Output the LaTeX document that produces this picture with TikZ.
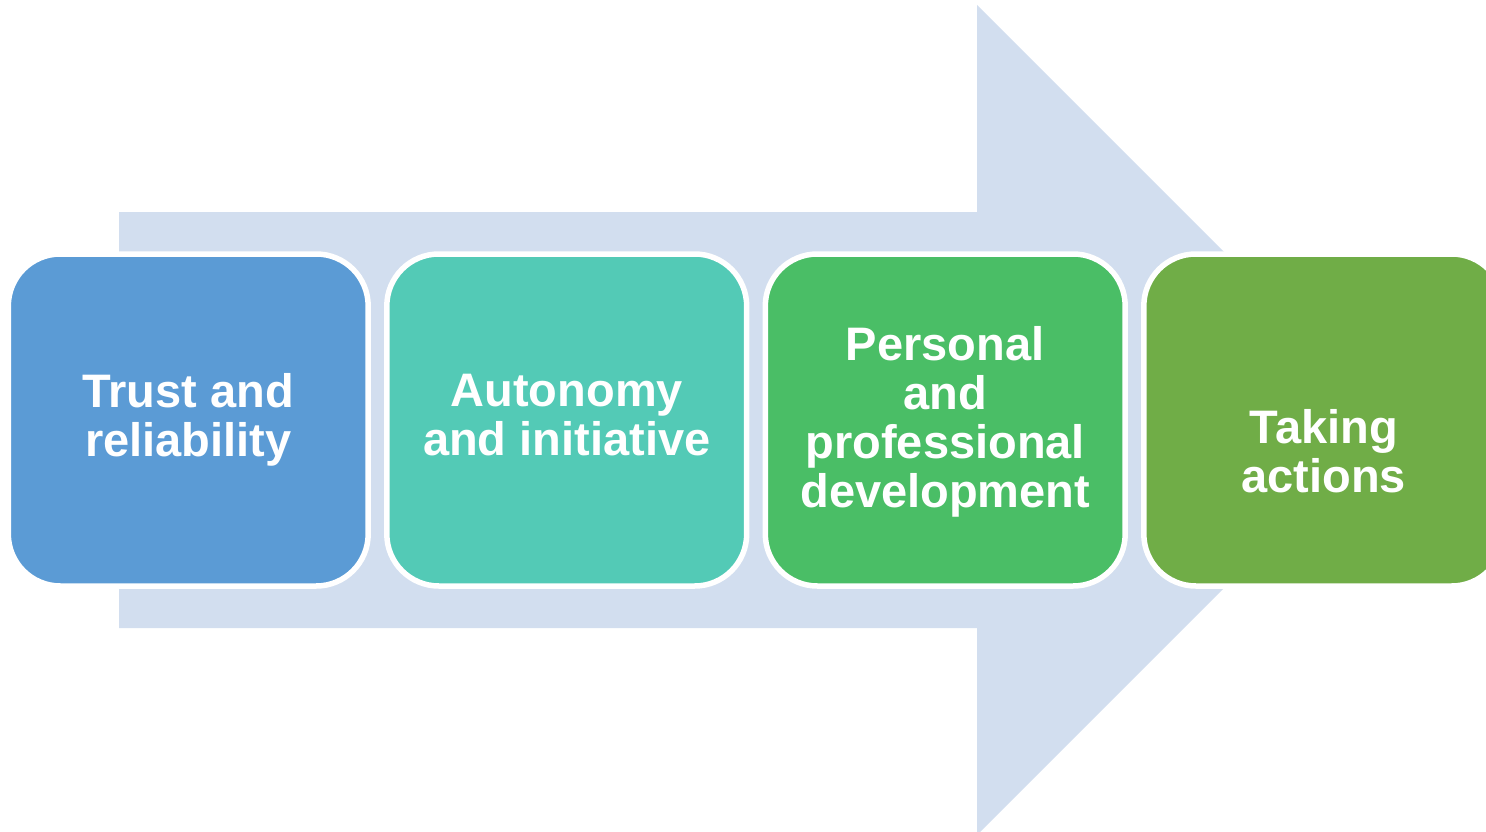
\documentclass[tikz,border=0pt]{standalone}
\usepackage{fontspec}
\setmainfont{Liberation Sans}
\begin{document}
\definecolor{arrowfill}{RGB}{210,222,239}
\definecolor{boxblue}{RGB}{91,155,213}
\definecolor{boxteal}{RGB}{83,202,182}
\definecolor{boxgreen}{RGB}{74,190,102}
\definecolor{boxolive}{RGB}{112,173,71}
\begin{tikzpicture}[x=1pt,y=-1pt,
  stepbox/.style={draw=white, line width=5.5pt, rounded corners=52pt,
    minimum width=359.9pt, minimum height=332pt, inner sep=0pt},
  steptext/.style={text=white, align=center, inner sep=0pt,
    font=\fontsize{47}{49}\selectfont\bfseries}]
  \useasboundingbox (0,0) rectangle (1486,832);
  \clip (0,0) rectangle (1486,832);
  % background arrow
  \fill[arrowfill] (119,212) -- (977,212) -- (977,5) -- (1392,420)
    -- (977,835) -- (977,628) -- (119,628) -- cycle;
  % the four stages
  \node[stepbox, fill=boxblue]  (b1) at (188.25,420) {};
  \node[stepbox, fill=boxteal]  (b2) at (566.75,420) {};
  \node[stepbox, fill=boxgreen] (b3) at (945.25,420) {};
  \node[stepbox, fill=boxolive] (b4) at (1323.75,420) {};
  % stage labels (base anchor sits on the last line)
  \node[steptext, anchor=base] (t1) at (188.25,456.7) {Trust and\\reliability};
  \node[steptext, anchor=base] (t2) at (566.75,455.7) {Autonomy\\and initiative};
  \node[steptext, anchor=base] (t3) at (945.25,507.3) {Personal\\and\\professional\\development};
  \node[steptext, anchor=base] (t4) at (1323.75,492.7) {Taking\\actions};
\end{tikzpicture}
\end{document}
